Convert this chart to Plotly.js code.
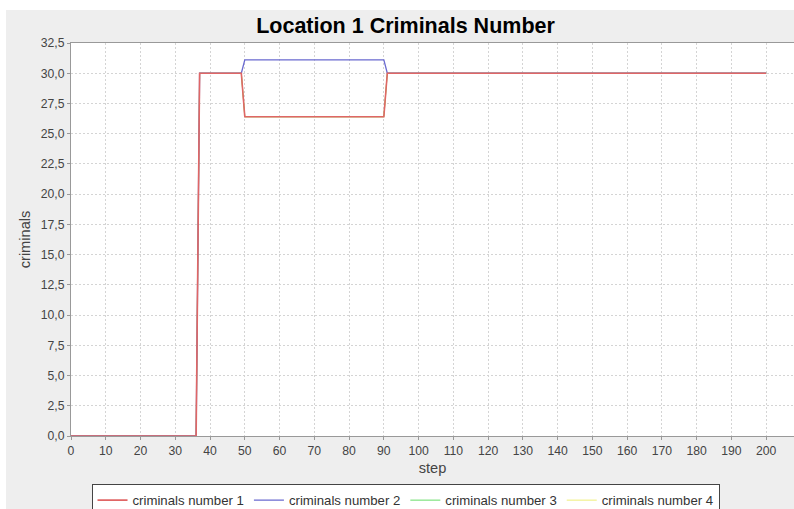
<!DOCTYPE html>
<html>
<head>
<meta charset="utf-8">
<script src="https://cdn.plot.ly/plotly-3.0.1.min.js"></script>
<style>
html,body{margin:0;padding:0;background:#ffffff;}
#chart{position:absolute;left:6px;top:10px;width:788px;height:499px;}
</style>
</head>
<body>
<div id="chart"></div>
<script>
// Data (breakpoints of each series)
const steps = [0, 36, 37, 49, 50, 90, 91, 200];
const criminals1 = [0, 0, 30, 30, 26.4, 26.4, 30, 30];
const criminals2 = [0, 0, 30, 30, 31.1, 31.1, 30, 30];
const criminals3 = [0, 0, 30, 30, 26.4, 26.4, 30, 30];
const criminals4 = [0, 0, 30, 30, 26.4, 26.4, 30, 30];
const seriesNames = ['criminals number 1', 'criminals number 2', 'criminals number 3', 'criminals number 4'];
const yTicks = [0, 2.5, 5, 7.5, 10, 12.5, 15, 17.5, 20, 22.5, 25, 27.5, 30, 32.5];
const xTicks = [0,10,20,30,40,50,60,70,80,90,100,110,120,130,140,150,160,170,180,190,200];

const colors = ['#e06666', '#6a6ad0', '#66dd66', '#eeee77'];
const widths = [1.6, 1.3, 1, 1];
const allSeries = [criminals1, criminals2, criminals3, criminals4];

// draw in reverse so series 1 ends on top (like JFreeChart)
const traces = [];
for (let i = 3; i >= 0; i--) {
  traces.push({
    x: steps, y: allSeries[i], type: 'scatter', mode: 'lines',
    name: seriesNames[i], legendrank: i + 1,
    line: {color: colors[i], width: widths[i]}
  });
}

const font = 'Liberation Sans, Arial, sans-serif';
const layout = {
  width: 788, height: 499,
  paper_bgcolor: '#eeeeee', plot_bgcolor: '#ffffff',
  margin: {l: 65, r: 0, t: 33, b: 73},
  separators: ',.',
  font: {family: font, size: 12, color: '#444444'},
  title: {text: '<b>Location 1 Criminals Number</b>', font: {family: font, size: 21.5, color: '#000000'},
          x: 0.507, xref: 'container', xanchor: 'center', y: 0.968, yref: 'container', yanchor: 'middle'},
  xaxis: {
    range: [0, 208], tickvals: xTicks, ticktext: xTicks.map(String),
    showgrid: true, gridcolor: '#d4d4d4', griddash: '2px,2px', gridwidth: 1,
    zeroline: false, showline: true, linecolor: '#999999', mirror: true,
    ticks: 'outside', ticklen: 3, tickcolor: '#999999',
    tickfont: {family: font, size: 12.2, color: '#444444'},
    title: {text: 'step', font: {family: font, size: 14.6, color: '#444444'}, standoff: 6}
  },
  yaxis: {
    range: [0, 32.5], tickvals: yTicks, tickformat: '.1f',
    showgrid: true, gridcolor: '#d4d4d4', griddash: '2px,2px', gridwidth: 1,
    zeroline: false, showline: true, linecolor: '#999999', mirror: true,
    ticks: 'outside', ticklen: 3, tickcolor: '#999999',
    tickfont: {family: font, size: 12.2, color: '#444444'},
    title: {text: 'criminals', font: {family: font, size: 14.6, color: '#444444'}, standoff: 6}
  },
  showlegend: true,
  legend: {
    orientation: 'h', xref: 'container', yref: 'container',
    x: 0.507, xanchor: 'center', y: 0.05, yanchor: 'top',
    bgcolor: '#ffffff', bordercolor: '#444444', borderwidth: 1,
    font: {family: font, size: 13.2, color: '#333333'},
    itemwidth: 30, tracegroupgap: 0
  }
};

Plotly.newPlot('chart', traces, layout, {displayModeBar: false, staticPlot: true});
</script>
</body>
</html>
